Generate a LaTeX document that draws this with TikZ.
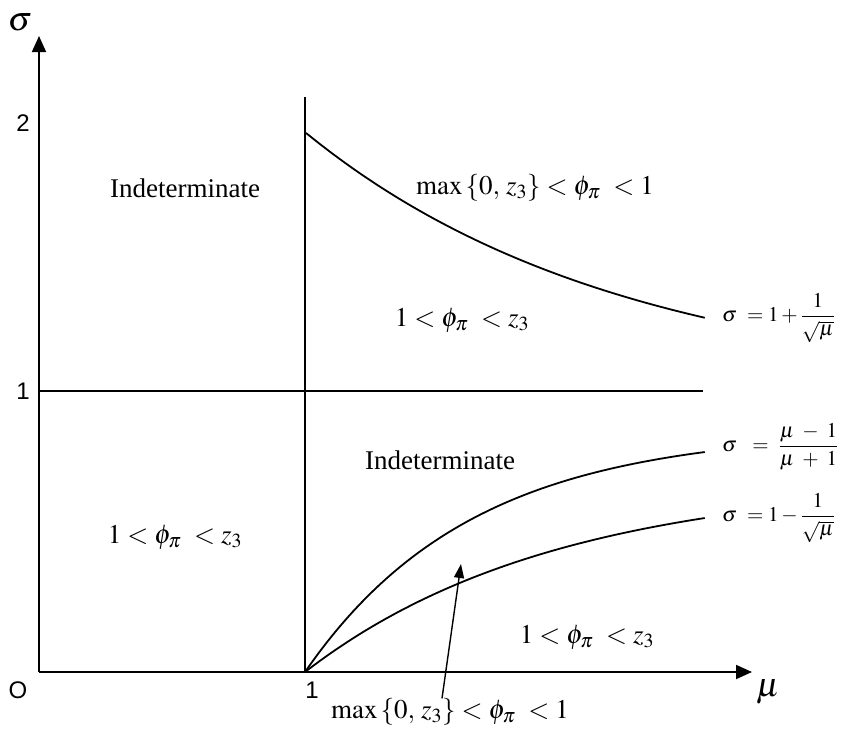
\documentclass[tikz,border=0pt]{standalone}
\usepackage{mathptmx}
\usepackage{fontspec}
\setmainfont{Liberation Serif}
\newfontfamily\axisfont{Liberation Sans}
\usetikzlibrary{arrows.meta,positioning}

\begin{document}
\begin{tikzpicture}[
  x=1pt, y=-1pt,
  region/.style={font=\fontsize{27}{30}\selectfont, inner sep=0pt},
  curvelabel/.style={font=\fontsize{21}{24}\selectfont, anchor=west, inner sep=0pt},
  ticklabel/.style={font=\axisfont\fontsize{24}{26}\selectfont, inner sep=0pt},
  axislabel/.style={font=\fontsize{34}{38}\selectfont, inner sep=0pt},
  axis/.style={-{Triangle[length=16pt,width=14pt]}, line width=1.8pt},
  bound/.style={line width=1.8pt},
  pointer/.style={-{Triangle[length=14pt,width=10pt]}, line width=1.4pt}
]
\useasboundingbox (0,0) rectangle (847,731);
% axes
\coordinate (origin) at (39,672);
\coordinate (ytop) at (39,36);
\coordinate (xend) at (752,672);
\draw[axis] (origin) -- (ytop);
\draw[axis] (origin) -- (xend);
\node[axislabel, anchor=base] (sigma) at (20,30) {$\sigma$};
\node[axislabel] (mu) at (768,692) {$\mu$};
\node[ticklabel] (two) at (23,123) {2};
\node[ticklabel] (one) at (23,391) {1};
\node[ticklabel] (zero) at (18,690) {O};
\node[ticklabel] (muone) at (312,690) {1};
% sigma = 1 and mu = 1
\coordinate (leftone) at (39,391);
\coordinate (rightone) at (703,391);
\coordinate (mubottom) at (305,672);
\coordinate (mutop) at (305,97);
\draw[bound] (leftone) -- (rightone);
\draw[bound] (mubottom) -- (mutop);
% curves
\draw[bound] plot[domain=0:1, samples=60] ({306+399*\x}, {391-258*exp(-1.26*\x)});
\draw[bound] plot[domain=0:1, samples=60] ({305+400*\x}, {672-220*(1-exp(-2.4*\x))/(1-exp(-2.4))});
\draw[bound] plot[domain=0:1, samples=60] ({305+400*\x}, {672-154*(1-exp(-1.6*\x))/(1-exp(-1.6))});
\node[curvelabel] (upperlabel) at (722,318) {$\sigma\ = 1 + \displaystyle\frac{1}{\sqrt{\mu}}$};
\node[curvelabel] (middlelabel) at (722,447) {$\sigma\ \ = \ \displaystyle\frac{\mu\ -\ 1}{\mu\ +\ 1}$};
\node[curvelabel] (lowerlabel) at (722,518) {$\sigma\ = 1 - \displaystyle\frac{1}{\sqrt{\mu}}$};
% regions
\node[region] (indetup) at (185,188) {Indeterminate};
\node[region] (maxup) at (535,188) {$\max\left\{0,\, z_3\right\} < \phi_\pi\ < 1$};
\node[region] (midup) at (462,320) {$1 < \phi_\pi\ < z_3$};
\node[region] (indetlow) at (440,460) {Indeterminate};
\node[region] (leftlow) at (175,537) {$1 < \phi_\pi\ < z_3$};
\node[region] (rightlow) at (587,637) {$1 < \phi_\pi\ < z_3$};
\node[region] (maxlow) at (450,712) {$\max\left\{0,\, z_3\right\} < \phi_\pi\ < 1$};
\coordinate (wedge) at (461,564);
\draw[pointer] (maxlow.north -| 442,0) -- (wedge);
\end{tikzpicture}
\end{document}
